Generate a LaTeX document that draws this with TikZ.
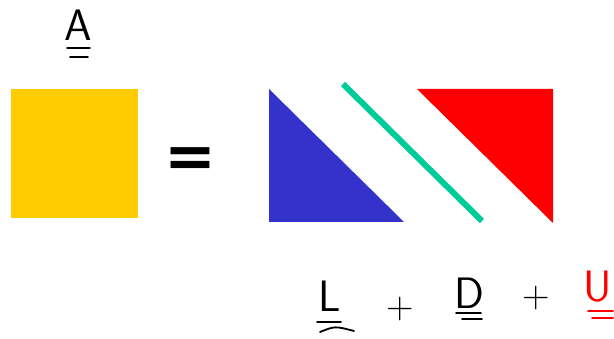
\documentclass[tikz,border=0pt]{standalone}
\usepackage{fontspec}
\usepackage{tikz}
\usetikzlibrary{positioning}
\newfontfamily\eqfont{DejaVu Sans}
\definecolor{gold}{HTML}{FFCC00}
\definecolor{lowblue}{HTML}{3333CC}
\definecolor{diagteal}{HTML}{00CC99}
\definecolor{upred}{HTML}{FF0000}
\begin{document}
\begin{tikzpicture}[x=1pt,y=-1pt,letter/.style={font=\fontsize{44}{48}\selectfont\sffamily,inner sep=0pt},plus/.style={font=\fontsize{38}{40}\selectfont,inner sep=0pt},uline/.style={line width=1.8pt,line cap=round}]
\useasboundingbox (0,0) rectangle (614,339);
\coordinate (Q1) at (11,89);
\coordinate (Q2) at (138,218);
\coordinate (B1) at (269,89);
\coordinate (B2) at (269,222);
\coordinate (B3) at (404,222);
\coordinate (G1) at (343,84);
\coordinate (G2) at (482,221);
\coordinate (R1) at (417,89);
\coordinate (R2) at (553,89);
\coordinate (R3) at (553,223);
\fill[gold] (Q1) rectangle (Q2);
\fill[lowblue] (B1) -- (B2) -- (B3) -- cycle;
\fill[upred] (R1) -- (R2) -- (R3) -- cycle;
\draw[diagteal,line width=6pt] (G1) -- (G2);
\node[font=\fontsize{62}{62}\selectfont\eqfont\bfseries,inner sep=0pt] (eq) at (190,163) {=};
\node[letter] (a) at (78,25) {A};
\draw[uline] (67,48) -- (90,48);
\draw[uline] (70,57) -- (88,57);
\node[letter] (l) at (330,296) {L};
\draw[uline] (317,322) -- (341,322);
\draw[uline] (320,332) .. controls (335,326) .. (354,331);
\node[plus] (p1) at (400,309) {+};
\node[letter] (d) at (469,293) {D};
\draw[uline] (456,313) -- (481,313);
\draw[uline] (462,319) -- (482,319);
\node[plus] (p2) at (536,298) {+};
\node[letter,text=upred] (u) at (598,287) {U};
\draw[uline,upred] (588,311) -- (613,311);
\draw[uline,upred] (592,318) -- (613,318);
\end{tikzpicture}
\end{document}
